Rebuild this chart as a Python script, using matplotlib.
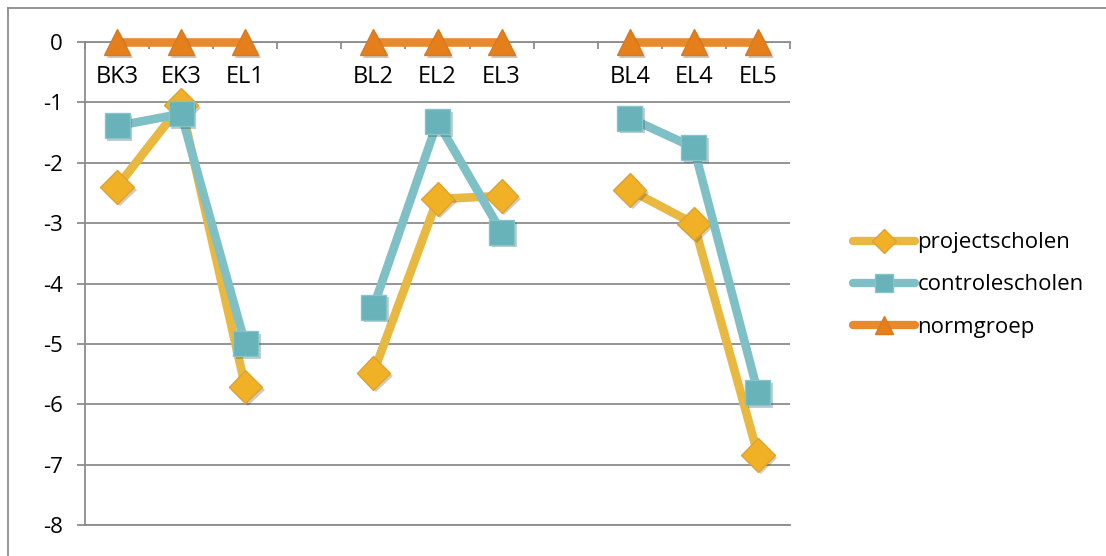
import matplotlib.pyplot as plt
import matplotlib.patheffects as pe
from matplotlib.lines import Line2D
import numpy as np

plt.rcParams['font.family'] = ['Open Sans', 'DejaVu Sans']

# Toetsmomenten; None laat een lege plek tussen de groepen
categories = ['BK3', 'EK3', 'EL1', None, 'BL2', 'EL2', 'EL3', None, 'BL4', 'EL4', 'EL5']
projectscholen = [-2.40, -1.04, -5.71, np.nan, -5.48, -2.60, -2.55, np.nan, -2.45, -3.01, -6.84]
controlescholen = [-1.39, -1.19, -5.00, np.nan, -4.39, -1.32, -3.15, np.nan, -1.26, -1.75, -5.81]
normgroep = [0, 0, 0, np.nan, 0, 0, 0, np.nan, 0, 0, 0]
y_ticks = [0, -1, -2, -3, -4, -5, -6, -7, -8]

grey = '#8c8c8c'
x = np.arange(len(categories))

fig = plt.figure(figsize=(11.06, 5.56), dpi=100)
ax = fig.add_axes([85 / 1106, 31 / 556, 705 / 1106, 483 / 556])

shadow = [pe.SimplePatchShadow(offset=(2, -2), alpha=0.25), pe.Normal()]

series = [
    ('projectscholen', projectscholen, '#e8b840', '#f0b126', '#dca232', 'D', 17),
    ('controlescholen', controlescholen, '#7fc0c6', '#68b2ba', '#86c4ca', 's', 18),
    ('normgroep', normgroep, '#e8892c', '#e47f1c', '#d97a22', '^', 19),
]
for i, (name, vals, lc, mc, ec, mk, ms) in enumerate(series):
    ax.plot(x, vals, color=lc, lw=6.2, solid_capstyle='round', solid_joinstyle='round',
            zorder=3 + i, clip_on=False)
    ax.plot(x, vals, ls='none', marker=mk, ms=ms, mfc=mc, mec=ec, mew=1,
            zorder=3 + i, clip_on=False, path_effects=shadow)

ax.set_xlim(-0.5, len(categories) - 0.5)
ax.set_ylim(-8, 0)
ax.set_yticks(y_ticks)
ax.set_yticklabels([str(v) for v in y_ticks])
ax.grid(axis='y', color=grey, lw=1.3)
ax.set_axisbelow(True)

ax.set_xticks(x)
ax.set_xticklabels([c if c else '' for c in categories])
ax.set_xticks(np.arange(-0.5, len(categories)), minor=True)
ax.xaxis.set_ticks_position('top')
ax.tick_params(axis='x', which='major', length=0, labeltop=True, labelbottom=False,
               pad=-34, labelsize=17)
ax.tick_params(axis='x', which='minor', direction='in', length=5, width=1.3, color=grey)
ax.tick_params(axis='y', length=6, width=1.3, color=grey, pad=10, labelsize=16)

for side in ['top', 'left', 'bottom']:
    ax.spines[side].set_color(grey)
    ax.spines[side].set_linewidth(1.3)
ax.spines['right'].set_visible(False)

handles = [
    Line2D([], [], color=lc, lw=6, solid_capstyle='round', marker=mk, ms=ms * 0.7,
           mfc=mc, mec=ec)
    for _, _, lc, mc, ec, mk, ms in series
]
fig.legend(handles, [s[0] for s in series], loc='center left',
           bbox_to_anchor=(853 / 1106, 1 - 285 / 556), frameon=False, fontsize=16,
           handlelength=2.8, handletextpad=0.1, labelspacing=0.95,
           borderpad=0, borderaxespad=0)

# rand van het kader
fig.add_artist(Line2D([8 / 1106, 1], [1 - 8 / 556] * 2, color=grey, lw=1.3))
fig.add_artist(Line2D([8 / 1106] * 2, [0, 1 - 8 / 556], color=grey, lw=1.3))

fig.savefig('out.png', dpi=100)
